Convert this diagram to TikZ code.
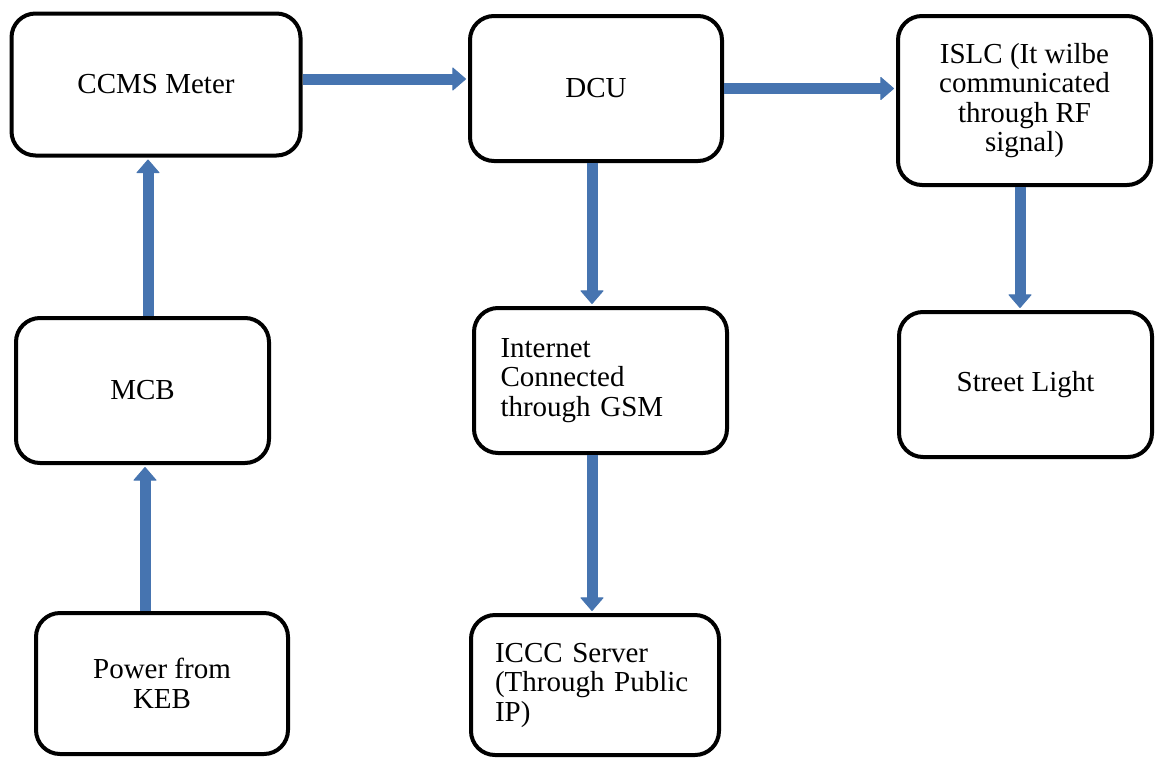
\documentclass[tikz,border=0pt]{standalone}
\usepackage{fontspec}
\setmainfont{Liberation Serif}
\usepackage{tikz}
\usetikzlibrary{
  arrows.meta,
  positioning,
  calc,
}
\definecolor{linkblue}{RGB}{70,116,176}
\tikzstyle{block} = [
  draw,
  rectangle,
  rounded corners=24pt,
  line width=4pt,
  font=\fontsize{29}{29.5}\selectfont,
]
\tikzstyle{arrow} = [
  -{Triangle[line width=1pt,round,length=14pt,width=24pt]},
  line width=11pt,
  linkblue,
  shorten >=2pt,
]

\begin{document}
\begin{tikzpicture}[x=1pt,y=-1pt]
        \useasboundingbox (0,0) rectangle (1159,758);
        \node[block,minimum width=289,minimum height=142]    (ccms)   at (156,84.5)    {CCMS Meter};
        \node[block,minimum width=252,minimum height=145]    (dcu)    at (596,88.5)    {DCU};
        \node[block,minimum width=253,minimum height=169,align=center]    (islc)   at (1024.5,100.5)   {ISLC (It wilbe\\communicated\\through RF\\signal)};
        \node[block,minimum width=253,minimum height=145]    (mcb)    at (142.5,390.5)   {MCB};
        \node[block,minimum width=252,minimum height=141,align=center]    (keb)    at (162,683.5)   {Power from\\KEB};
        \node[block,minimum width=253,minimum height=145,text width=200,align=left]    (inet)   at (600.5,380.5)   {Internet\\Connected\\through GSM};
        \node[block,minimum width=248,minimum height=140,text width=200,align=left]    (iccc)   at (595,685)   {ICCC Server\\(Through Public\\IP)};
        \node[block,minimum width=253,minimum height=145]    (street) at (1025.5,384.5)  {Street Light};

        \draw[arrow] ([yshift=5.5pt]ccms.east) -- ([yshift=5.5pt]ccms.east -| dcu.west);
        \draw[arrow] (dcu.east) -- (dcu.east -| islc.west);
        \draw[arrow] ([xshift=5.5pt]mcb.north) -- ([xshift=5.5pt]mcb.north |- ccms.south);
        \draw[arrow] ([xshift=2.5pt]mcb.south |- keb.north) -- ([xshift=2.5pt]mcb.south);
        \draw[arrow] ([xshift=-4pt]dcu.south) -- ([xshift=-4pt]dcu.south |- inet.north);
        \draw[arrow] ([xshift=-3pt]iccc.north |- inet.south) -- ([xshift=-3pt]iccc.north);
        \draw[arrow] ([xshift=-4.5pt]islc.south) -- ([xshift=-4.5pt]islc.south |- street.north);
    \end{tikzpicture}
\end{document}
